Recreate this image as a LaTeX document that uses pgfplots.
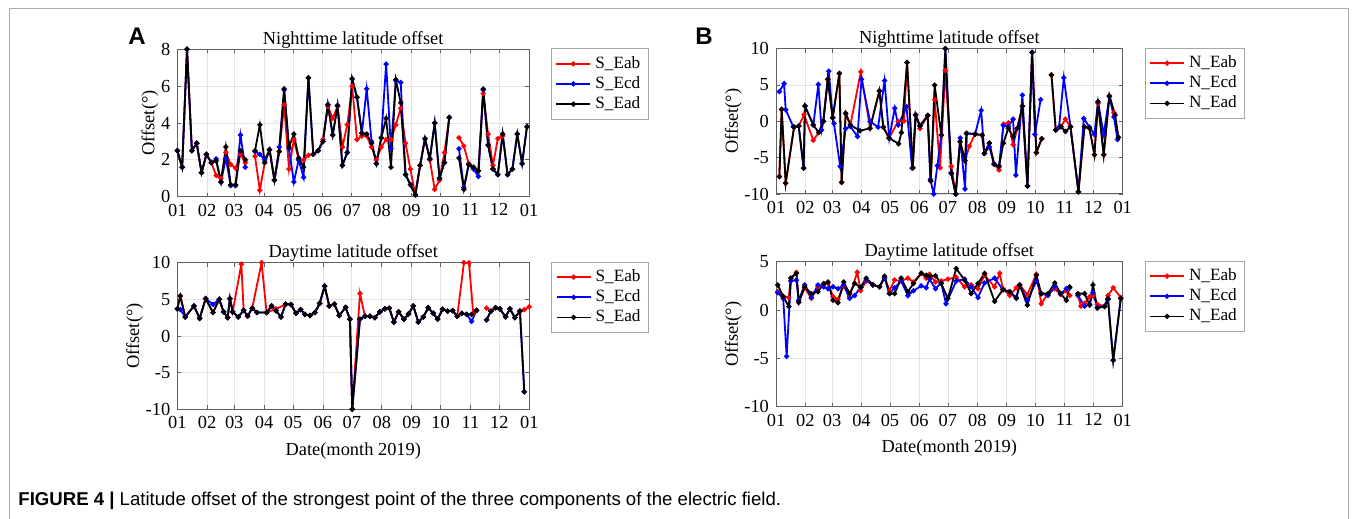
\documentclass[border=0pt]{standalone}
\usepackage{fontspec}
\setmainfont{Liberation Serif}
\newfontfamily\arial{Liberation Sans}
\usepackage{pgfplots}
\usepackage{pgfplotstable}
\pgfplotsset{compat=1.18}
\newcommand\fs{\rmfamily\fontsize{9.2}{11}\selectfont}
\newcommand\lfs{\rmfamily\fontsize{8.6}{10}\selectfont}

\pgfplotstableread{
i k r b
0 2.5 2.5 2.5
1 1.6 1.6 1.6
2 8.0 8.0 8.0
3 2.5 2.5 2.5
4 2.9 2.9 2.9
5 1.3 1.3 1.3
6 2.3 2.3 2.3
7 1.85 1.85 1.85
8 1.95 1.15 2.05
9 0.8 1.0 0.8
10 2.7 2.4 2.1
11 0.65 1.75 0.6
12 0.65 1.55 0.6
13 2.5 2.3 3.35
14 2.0 1.85 1.6
15 nan nan nan
16 2.5 2.2 2.45
17 3.9 0.35 2.3
18 1.85 1.85 2.0
19 2.55 2.55 2.55
20 0.9 0.9 0.9
21 2.45 2.45 2.7
22 5.85 5.0 5.8
23 2.7 1.5 2.6
24 3.4 3.1 0.8
25 2.1 2.0 2.0
26 1.6 2.0 1.05
27 6.45 2.25 6.45
28 2.3 2.3 2.3
29 2.5 2.5 2.5
30 3.0 3.1 3.0
31 5.0 4.9 5.0
32 3.35 4.25 3.35
33 4.95 4.9 4.95
34 1.7 2.7 1.7
35 2.4 3.9 2.4
36 6.4 6.0 6.4
37 5.4 3.1 5.4
38 3.45 3.3 3.45
39 3.4 3.3 5.85
40 2.9 2.7 3.0
41 1.8 2.0 1.8
42 3.2 2.7 3.2
43 4.25 3.1 7.2
44 1.6 3.1 2.6
45 6.35 3.9 6.3
46 5.1 4.8 6.2
47 1.2 2.9 1.2
48 0.65 1.5 0.65
49 0.1 0.1 0.1
50 1.7 1.7 1.7
51 3.15 3.15 3.15
52 2.05 2.0 2.05
53 4.0 0.4 4.0
54 1.0 0.9 1.0
55 1.85 2.4 1.85
56 4.3 4.3 4.3
57 nan nan nan
58 2.1 3.2 2.6
59 0.4 2.75 0.5
60 1.75 1.8 1.75
61 1.6 1.6 1.5
62 1.4 1.4 1.1
63 5.85 5.6 5.8
64 2.8 3.4 2.8
65 1.5 1.7 1.5
66 1.2 3.15 1.2
67 3.4 3.3 3.4
68 1.2 nan 1.2
69 1.5 nan 1.5
70 3.4 nan 3.4
71 1.8 nan 1.8
72 3.8 nan 3.8
}\tabAtop

\pgfplotsset{
  panel/.style={
    scale only axis, anchor=north west,
    xmin=0, xmax=365,
    xtick={0,31,59,90,120,151,181,212,243,273,304,334,365},
    xticklabels={01,02,03,04,05,06,07,08,09,10,11,12,01},
    grid=major, grid style={gray!22, line width=0.4pt},
    axis line style={gray!75!black, line width=0.5pt},
    tick style={gray!75!black, line width=0.4pt},
    tick align=inside, major tick length=2pt,
    ticklabel style={font=\fs, text=black},
    /pgf/number format/assume math mode=true,
    title style={font=\fs, yshift=-9pt},
    label style={font=\fs},
    ylabel={Offset(°)}, ylabel shift=-5.5pt,
    every axis plot/.append style={line width=0.9pt, mark=*, mark size=0.8pt, mark options={solid}},
    unbounded coords=jump,
    legend style={at={(1,1)}, anchor=north west, xshift=11pt, yshift=0.5pt,
      draw=gray!70, font=\lfs, inner xsep=2pt, inner ysep=1.8pt, row sep=-1.4pt},
    legend cell align=left,
  }
}

\begin{document}
\begin{tikzpicture}
\useasboundingbox (0,0) rectangle (678.5pt,-259.5pt);
\draw[gray!65, line width=0.5pt] (4.5pt,-259.5pt) -- (4.5pt,-4.5pt) -- (674pt,-4.5pt) -- (674pt,-259.5pt);

% ---------- A top ----------
\begin{axis}[panel, at={(88.65pt,-24.65pt)}, width=175.85pt, height=73.7pt,
  ymin=0, ymax=8, ytick={0,2,4,6,8}, title={Nighttime latitude offset}]
\addplot[red] table[x expr=\thisrow{i}*5.04, y=r]{\tabAtop};
\addplot[blue] table[x expr=\thisrow{i}*5.04, y=b]{\tabAtop};
\addplot[black] table[x expr=\thisrow{i}*5.04, y=k]{\tabAtop};
\legend{S\_Eab,S\_Ecd,S\_Ead}
\end{axis}

% ---------- A bottom ----------
\begin{axis}[panel, at={(88.65pt,-131.35pt)}, width=176pt, height=73.3pt,
  ymin=-10, ymax=10, ytick={-10,-5,0,5,10}, title={Daytime latitude offset},
  xlabel={Date(month 2019)}]
\addplot[red] coordinates {(0,3.7)(3.1,5.45)(8.3,2.6)(17.3,4.1)(23.2,2.4)(29.4,5.1)(37.0,3.2)(43.5,5.0)(48.0,3.3)(52.2,2.5)(54.6,5.1)(57.4,3.3)(66.4,9.8)(68.8,3.5)(72.9,2.7)(77.7,3.8)(87.4,10)(92.6,3.2)(102.3,3.7)(112.3,4.3)(117.9,4.3)(123.0,3.1)(127.9,3.6)(132.4,2.95)(137.5,2.8)(142.7,3.2)(147.6,4.45)(152.8,6.8)(157.6,4.1)(162.8,4.35)(168.0,2.8)(174.5,3.9)(179.0,2.3)(181.4,-10)(189.4,5.8)(194.6,2.7)(199.8,2.7)(204.9,2.5)(210.1,3.3)(215.3,3.7)(219.8,3.8)(224.6,1.9)(229.5,3.3)(235.0,2.3)(239.8,3.0)(244.7,4.1)(249.9,1.9)(255.1,2.6)(260.2,3.85)(265.4,3.1)(269.9,2.3)(275.1,3.65)(280.3,3.4)(285.5,3.45)(290.3,2.7)(297.2,10)(302.4,10)(306.9,3.0)(310.3,3.5)(315,nan)(320.7,3.8)(325.2,3.4)(330.0,3.85)(334.5,3.7)(340.4,2.6)(344.9,3.7)(350.1,2.5)(355.3,3.4)(359.8,3.6)(365,4.0)};
\addplot[blue] coordinates {(0,3.7)(3.1,3.6)(8.3,2.6)(17.3,4.1)(23.2,2.4)(29.4,5.1)(37.0,4.3)(43.5,5.0)(48.0,3.3)(52.2,2.5)(54.6,5.1)(57.4,3.3)(63.2,2.6)(68.8,3.5)(72.9,2.7)(77.7,3.8)(82.6,3.2)(92.6,3.2)(97.8,4.1)(102.3,3.45)(107.5,2.6)(112.3,4.35)(117.9,4.3)(123.0,3.1)(127.9,3.6)(132.4,2.95)(137.5,2.8)(142.7,3.2)(147.6,4.45)(152.8,6.8)(157.6,4.1)(162.8,4.35)(168.0,2.8)(174.5,3.9)(179.0,2.3)(181.4,-10)(189.4,2.3)(194.6,2.7)(199.8,2.7)(204.9,2.5)(210.1,3.3)(215.3,3.7)(219.8,3.8)(224.6,1.9)(229.5,3.3)(235.0,2.3)(239.8,3.0)(244.7,4.1)(249.9,1.9)(255.1,2.6)(260.2,3.85)(265.4,3.1)(269.9,2.3)(275.1,3.65)(280.3,3.4)(285.5,3.45)(290.3,2.7)(295.1,3.1)(300.0,2.95)(305.2,2.0)(310.3,3.5)(315,nan)(320.7,2.2)(325.2,3.4)(330.0,3.85)(334.5,3.7)(340.4,2.6)(344.9,3.7)(350.1,2.5)(355.3,3.4)(359.8,-7.6)};
\addplot[black] coordinates {(0,3.7)(3.1,5.45)(8.3,2.6)(17.3,4.1)(23.2,2.4)(29.4,5.1)(37.0,3.2)(43.5,5.0)(48.0,3.3)(52.2,2.5)(54.6,5.1)(57.4,3.3)(63.2,2.6)(68.8,3.5)(72.9,2.7)(77.7,3.8)(82.6,3.2)(92.6,3.2)(97.8,4.1)(102.3,3.45)(107.5,2.6)(112.3,4.35)(117.9,4.3)(123.0,3.1)(127.9,3.6)(132.4,2.95)(137.5,2.8)(142.7,3.2)(147.6,4.45)(152.8,6.8)(157.6,4.1)(162.8,4.35)(168.0,2.8)(174.5,3.9)(179.0,2.3)(181.4,-10)(189.4,2.3)(194.6,2.7)(199.8,2.7)(204.9,2.5)(210.1,3.3)(215.3,3.7)(219.8,3.8)(224.6,1.9)(229.5,3.3)(235.0,2.3)(239.8,3.0)(244.7,4.1)(249.9,1.9)(255.1,2.6)(260.2,3.85)(265.4,3.1)(269.9,2.3)(275.1,3.65)(280.3,3.4)(285.5,3.45)(290.3,2.7)(295.1,3.1)(300.0,2.95)(305.2,2.95)(310.3,3.5)(315,nan)(320.7,2.2)(325.2,3.4)(330.0,3.85)(334.5,3.7)(340.4,2.6)(344.9,3.7)(350.1,2.5)(355.3,3.4)(359.8,-7.6)};
\legend{S\_Eab,S\_Ecd,S\_Ead}
\end{axis}

% ---------- B top ----------
\begin{axis}[panel, at={(388pt,-24.35pt)}, width=173.35pt, height=72.65pt,
  ymin=-10, ymax=10, ytick={-10,-5,0,5,10}, title={Nighttime latitude offset}]
\addplot[red] coordinates {(3.5,-7.6)(6,1.65)(10.2,-8.5)(19,-0.8)(23.9,-0.65)(29.5,0.9)(39.3,-2.6)(45,-1.55)(49.8,0)(54.4,5.8)(59.7,0.5)(66.7,6.6)(69.1,-8.4)(73.4,1.1)(78.3,-0.5)(89.3,6.8)(99,-0.95)(108.8,4.2)(113,-0.8)(119,-2.3)(128.6,0.0)(134.7,0.05)(138,8.1)(144,-6.4)(147,0.9)(151.6,-1.0)(159.7,0.8)(162.9,-8.2)(167,3.0)(172.7,-6.4)(178.3,7.0)(184.6,-6.2)(189.2,-10)(193.8,-2.8)(199,-5.4)(203.6,-3.4)(209.6,-1.75)(217,-1.9)(219.4,-4.4)(224.6,-3.0)(229.6,-5.9)(234.8,-6.7)(239.4,-0.4)(244.6,-0.2)(249.6,-3.2)(254.1,-0.95)(259.4,2.1)(264.7,-8.9)(269.6,9.5)(274.1,-4.3)(279.7,-2.4)(285,nan)(290,6.4)(294.5,-1.2)(300,-0.75)(304.7,0.3)(310,-0.75)(318.4,-9.7)(324.7,-0.75)(330,-0.95)(335.2,-4.6)(339,2.5)(345,-4.6)(351,3.5)(355.8,1.2)(360.5,-2.2)};
\addplot[blue] coordinates {(3.5,4.1)(8.5,5.2)(10.2,1.6)(18.2,-0.75)(23.9,-0.65)(29.1,-6.45)(30.5,2.1)(39.3,-0.5)(44.6,5.1)(48,-1.2)(49.8,0)(55.6,6.9)(59.7,0.5)(61,-0.3)(67.6,-6.2)(73.4,-1.0)(78.3,-0.7)(85.8,-2.1)(90,5.8)(99,0.0)(107.5,-0.8)(114.3,5.6)(119.2,-2.35)(125,1.8)(128.6,-0.5)(137.4,2.0)(143.3,-6.45)(147,0.9)(151.5,-0.65)(159.7,0.8)(162.5,-8.0)(166,-10)(169.9,-6.1)(174,-1.9)(178.3,10)(184.3,-7.1)(189.2,-10)(194,-2.3)(199,-9.3)(201,-1.65)(209.6,-1.75)(216,1.5)(219.4,-4.4)(224.6,-3.5)(229.6,-5.9)(234.8,-6.2)(239.4,-0.6)(244.6,-0.7)(249.6,0.3)(252.6,-7.4)(259.4,3.6)(264.7,-8.9)(269.6,9.5)(272.6,-1.8)(278.6,3.0)(285,nan)(294.5,-1.2)(298,-0.8)(303,6.0)(310,-0.75)(318.4,-9.7)(324,0.4)(330,-0.8)(335.2,-1.8)(339,2.7)(345,-1.8)(351,3.4)(355.8,0.6)(359.5,-2.5)};
\addplot[black] coordinates {(3.5,-7.6)(6,1.65)(10.2,-8.5)(19,-0.8)(23.9,-0.65)(29.1,-6.45)(30.5,2.1)(39.3,-0.5)(45,-1.55)(49.8,0)(54.4,5.8)(59.7,0.5)(66.7,6.6)(69.1,-8.4)(73.4,1.1)(78.3,-0.5)(88.4,-1.3)(99,-0.95)(108.8,4.2)(113,-0.8)(119,-2.3)(129.2,-3.1)(132,-1.55)(138,8.1)(144,-6.4)(147,0.9)(151.6,-0.6)(159.7,0.8)(162.9,-8.2)(167,5.0)(174,-1.9)(178.3,10)(184.6,-7.2)(189.2,-10)(193.8,-2.8)(199,-5.4)(200.4,-1.65)(209.6,-1.75)(217,-1.9)(219.4,-4.4)(224.6,-3.0)(229.6,-5.9)(234.8,-6.2)(239.4,-3.0)(244.6,-0.95)(249.6,-2.1)(254.1,-0.95)(259.4,2.1)(264.7,-8.9)(269.6,9.5)(274.1,-4.3)(279.7,-2.4)(285,nan)(290,6.4)(294.5,-1.2)(300,-0.75)(304.7,-1.4)(310,-0.75)(318.4,-9.7)(324.7,-0.75)(330,-0.95)(335.2,-4.6)(339,2.7)(345,-4.6)(351,3.5)(357,0.9)(360.5,-2.2)};
\legend{N\_Eab,N\_Ecd,N\_Ead}
\end{axis}

% ---------- B bottom ----------
\begin{axis}[panel, at={(388pt,-130.85pt)}, width=173.35pt, height=72.5pt,
  ymin=-10, ymax=5, ytick={-10,-5,0,5}, title={Daytime latitude offset},
  xlabel={Date(month 2019)}]
\addplot[red] coordinates {(1.8,1.9)(7.6,1.4)(13.5,1.3)(15.6,3.3)(21.5,3.9)(23.9,0.8)(30.2,2.3)(37.2,1.2)(44.2,2.4)(50.2,2.6)(54.7,2.8)(60,1.4)(65.2,1.1)(71.2,2.5)(77.5,1.4)(85.5,3.9)(89.1,2.0)(95,3.0)(102,2.6)(109,2.4)(114.3,3.4)(119.5,2.0)(124.8,3.1)(131.8,3.0)(138.8,3.3)(144.8,2.9)(152.9,3.8)(158.1,3.3)(161.6,3.7)(167.9,2.9)(173.9,3.0)(181,3.2)(189.7,3.4)(198.5,2.4)(205.5,2.6)(212.6,2.2)(219.6,3.6)(230.1,2.4)(235.5,3.8)(238.9,2.2)(246,1.5)(253,2.3)(256.5,2.6)(264.6,1.6)(274.1,3.7)(279.3,0.65)(286.4,1.7)(293.4,2.2)(299.7,1.6)(305.6,2.0)(309.2,1.5)(313,nan)(317.9,1.5)(321,0.4)(324.9,0.7)(330.2,1.4)(333.7,1.5)(338.3,0.6)(346,0.4)(349.5,1.5)(355,2.3)(363,1.3)};
\addplot[blue] coordinates {(1.8,1.8)(7.6,1.2)(11.2,-4.8)(15.6,3.0)(21.5,3.1)(23.9,1.0)(30.2,2.6)(37.2,1.3)(44.2,2.6)(50.2,2.4)(54.7,2.2)(60,2.4)(65.2,2.2)(71.2,2.6)(77.5,1.2)(82.8,1.5)(89.1,2.35)(95,3.1)(102,2.6)(109,2.4)(114.3,3.3)(119.5,1.7)(124.8,2.3)(131.8,3.0)(138.8,1.5)(144.8,2.0)(152.9,2.5)(158.1,2.3)(161.6,3.2)(167.9,2.2)(173.9,2.8)(179,0.65)(189.7,3.0)(198.5,3.2)(205.5,2.4)(212.6,1.3)(219.6,2.8)(230.1,3.3)(238.9,2.1)(246,1.9)(253,1.3)(256.5,2.6)(264.6,1.0)(274.1,3.0)(279.3,1.7)(286.4,1.5)(293.4,2.4)(299.7,1.7)(305.6,2.2)(309.2,2.3)(313,nan)(317.9,1.5)(324.9,0.4)(330.2,0.6)(333.7,1.8)(338.3,0.3)(346,0.4)(349.5,1.1)(355,-5.2)(363,1.2)};
\addplot[black] coordinates {(1.8,2.59)(7.6,1.4)(13.5,0.35)(15.6,3.3)(21.5,3.8)(23.9,0.8)(30.2,2.4)(37.2,1.7)(44.2,1.9)(50.2,2.75)(54.7,2.9)(60,1.0)(65.2,0.75)(71.2,2.9)(77.5,1.7)(82.8,2.75)(89.1,2.35)(95,3.3)(102,2.6)(109,2.4)(114.3,3.5)(119.5,1.7)(124.8,1.7)(131.8,3.3)(138.8,1.9)(144.8,2.75)(152.9,3.8)(158.1,3.6)(161.6,3.5)(167.9,3.55)(173.9,2.75)(181,1.2)(189.7,4.3)(198.5,3.1)(205.5,1.7)(212.6,2.75)(219.6,3.8)(230.1,0.9)(238.9,2.1)(246,1.9)(253,1.2)(256.5,2.6)(264.6,0.5)(274.1,3.6)(279.3,1.7)(286.4,1.7)(293.4,2.8)(299.7,1.7)(305.6,1.0)(309.2,2.4)(313,nan)(317.9,1.7)(324.9,1.7)(330.2,0.5)(333.7,2.6)(338.3,0.2)(346,0.35)(349.5,1.2)(355,-5.2)(363,1.2)};
\legend{N\_Eab,N\_Ecd,N\_Ead}
\end{axis}

\node[font=\arial\bfseries\fontsize{12}{14}\selectfont, anchor=base west, inner sep=0pt] at (64pt,-22.5pt) {A};
\node[font=\arial\bfseries\fontsize{12}{14}\selectfont, anchor=base west, inner sep=0pt] at (347.5pt,-22.5pt) {B};
\node[anchor=base west, inner sep=0pt, font=\arial\fontsize{9.3}{11}\selectfont] at (9pt,-252.5pt) {\textbf{FIGURE 4 |} Latitude offset of the strongest point of the three components of the electric field.};
\end{tikzpicture}
\end{document}
